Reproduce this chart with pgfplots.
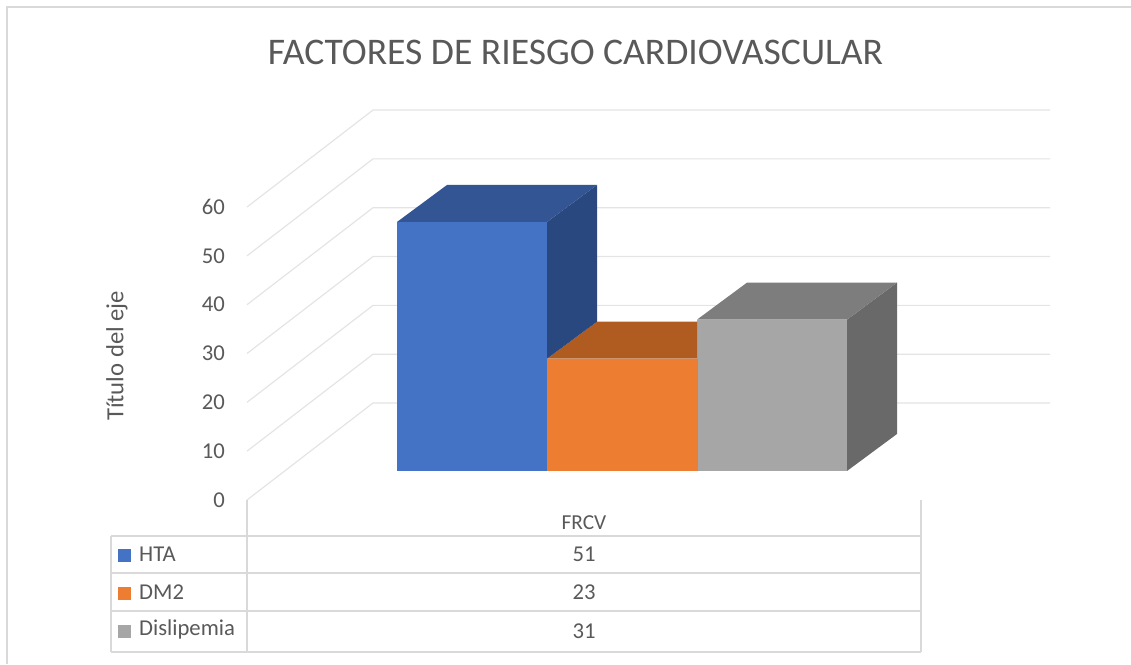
\documentclass[border=0pt]{standalone}
\usepackage{fontspec}
\setmainfont{Carlito}
\usepackage{pgfplots}
\pgfplotsset{compat=1.18}
\definecolor{txt}{HTML}{595959}
\definecolor{gridc}{HTML}{E4E4E4}
\definecolor{framec}{HTML}{D9D9D9}
\begin{document}
\begin{tikzpicture}
\begin{axis}[
  x=0.75pt, y=3.662pt,
  xmin=247, xmax=921, ymin=0, ymax=60,
  clip=false,
  axis line style={draw=none},
  tick style={draw=none},
  ytick={0,10,20,30,40,50,60},
  xtick={584},
  xticklabels={FRCV},
  tick label style={text=txt},
  yticklabel style={font=\fontsize{17}{19}\selectfont, xshift=-13pt},
  xticklabel style={font=\fontsize{16}{18}\selectfont, yshift=-8pt},
  /pgf/number format/assume math mode=true,
]
% page
\path[use as bounding box] (axis cs:0,-33.59) rectangle (axis cs:1131,102.4);
% frame
\addplot[framec, line width=1pt] coordinates {(7,-33.59) (7,100.96) (1131,100.96)};
% wall grid
\pgfplotsinvokeforeach{0,10,20,30,40,50,60}{
  \addplot[gridc, line width=0.9pt] coordinates {(247,#1) (373,#1+19.86) (1050,#1+19.86)};
}
% table
\addplot[framec, line width=1pt] coordinates {(111,-7.37) (921,-7.37)};
\addplot[framec, line width=1pt] coordinates {(111,-14.95) (921,-14.95)};
\addplot[framec, line width=1pt] coordinates {(111,-22.73) (921,-22.73)};
\addplot[framec, line width=1pt] coordinates {(111,-31.13) (921,-31.13)};
\addplot[framec, line width=1pt] coordinates {(111,-7.37) (111,-31.13)};
\addplot[framec, line width=1pt] coordinates {(247,0) (247,-31.13)};
\addplot[framec, line width=1pt] coordinates {(921,0) (921,-31.13)};
% gray bar (31)
\addplot[draw=none, fill=black!59] coordinates {(847,5.94) (897,13.52) (897,44.52) (847,36.94)} -- cycle;
\addplot[draw=none, fill=black!51] coordinates {(697,36.94) (747,44.52) (897,44.52) (847,36.94)} -- cycle;
\addplot[draw=none, fill=black!35] coordinates {(697,5.94) (697,36.94) (847,36.94) (847,5.94)} -- cycle;
% orange bar (23)
\addplot[draw=none, fill={rgb,255:red,176;green,92;blue,32}] coordinates {(547,28.94) (597,36.52) (697,36.52) (697,28.94)} -- cycle;
\addplot[draw=none, fill={rgb,255:red,237;green,125;blue,49}] coordinates {(547,5.94) (547,28.94) (697.5,28.94) (697.5,5.94)} -- cycle;
% blue bar (51)
\addplot[draw=none, fill={rgb,255:red,42;green,72;blue,128}] coordinates {(547,28.94) (597,36.52) (597,64.52) (547,56.94)} -- cycle;
\addplot[draw=none, fill={rgb,255:red,51;green,85;blue,147}] coordinates {(397,56.94) (447,64.52) (597,64.52) (547,56.94)} -- cycle;
\addplot[draw=none, fill={rgb,255:red,68;green,114;blue,196}] coordinates {(397,5.94) (397,56.94) (547,56.94) (547,5.94)} -- cycle;
% legend keys
\addplot[draw=none, fill={rgb,255:red,68;green,114;blue,196}] coordinates {(118,-9.95) (131,-9.95) (131,-12.6) (118,-12.6)} -- cycle;
\addplot[draw=none, fill={rgb,255:red,237;green,125;blue,49}] coordinates {(118,-17.75) (131,-17.75) (131,-20.4) (118,-20.4)} -- cycle;
\addplot[draw=none, fill=black!35] coordinates {(118,-25.6) (131,-25.6) (131,-28.25) (118,-28.25)} -- cycle;
% texts
\node[text=txt, font=\fontsize{28.2}{32}\selectfont] at (axis cs:575.5,91.6) {FACTORES DE RIESGO CARDIOVASCULAR};
\node[text=txt, font=\fontsize{18.5}{20}\selectfont, rotate=90] at (axis cs:117,29.5) {Título del eje};
\node[text=txt, font=\fontsize{17}{19}\selectfont, anchor=west] at (axis cs:134.5,-11.1) {HTA};
\node[text=txt, font=\fontsize{17}{19}\selectfont, anchor=west] at (axis cs:134.5,-18.9) {DM2};
\node[text=txt, font=\fontsize{17}{19}\selectfont, anchor=west] at (axis cs:134.5,-26.5) {Dislipemia};
\node[text=txt, font=\fontsize{17}{19}\selectfont] at (axis cs:584,-11.1) {51};
\node[text=txt, font=\fontsize{17}{19}\selectfont] at (axis cs:584,-18.9) {23};
\node[text=txt, font=\fontsize{17}{19}\selectfont] at (axis cs:584,-26.9) {31};
\end{axis}
\end{tikzpicture}
\end{document}
